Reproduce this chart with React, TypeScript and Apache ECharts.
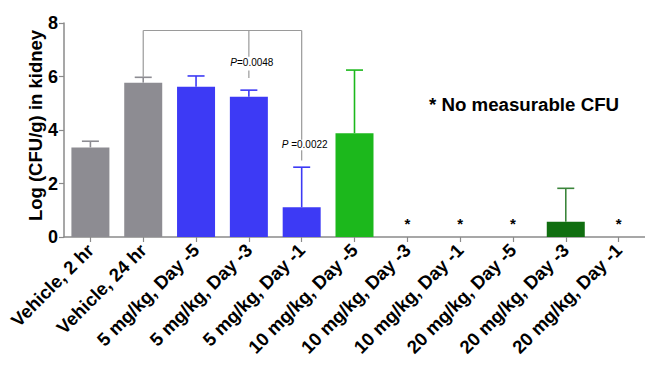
import React, { useEffect, useRef } from "react";
import * as echarts from "echarts";

const categories = [
  "Vehicle, 2 hr",
  "Vehicle, 24 hr",
  "5 mg/kg, Day -5",
  "5 mg/kg, Day -3",
  "5 mg/kg, Day -1",
  "10 mg/kg, Day -5",
  "10 mg/kg, Day -3",
  "10 mg/kg, Day -1",
  "20 mg/kg, Day -5",
  "20 mg/kg, Day -3",
  "20 mg/kg, Day -1",
];
const means = [3.35, 5.77, 5.62, 5.24, 1.11, 3.88, 0, 0, 0, 0.57, 0];
const errUpper = [3.58, 5.97, 6.02, 5.49, 2.61, 6.24, 0, 0, 0, 1.82, 0];
const noCFU = [false, false, false, false, false, false, true, true, true, false, true];
const barColors = [
  "#8d8c92", "#8d8c92",
  "#3d3af5", "#3d3af5", "#3d3af5",
  "#1cb81c", "#1cb81c", "#1cb81c",
  "#106e10", "#106e10", "#106e10",
];
const errColors = [
  "#8d8c92", "#8d8c92",
  "#3d3af5", "#3d3af5", "#3d3af5",
  "#1cb81c", "#1cb81c", "#1cb81c",
  "#3b853b", "#3b853b", "#3b853b",
];
const yMin = 0;
const yMax = 8;
const yInterval = 2;

// comparison bracket
const bracketLevel = 7.72;
const bracketFrom = 1;
const bracketTo = 4;
const bracketDrops = [
  { cat: 1, segments: [[7.72, 5.99]], label: "", labelY: 0 },
  { cat: 3, segments: [[7.72, 6.74], [6.22, 5.94]], label: "=0.0048", labelY: 6.52 },
  { cat: 4, segments: [[7.72, 3.64], [3.24, 2.86]], label: " =0.0022", labelY: 3.44 },
];
const noteText = "* No measurable CFU";
const yAxisTitle = "Log (CFU/g) in kidney";
const asteriskY = 0.5;

export default function App() {
  const ref = useRef<HTMLDivElement>(null);
  useEffect(() => {
    if (!ref.current) return;
    const chart = echarts.init(ref.current, null, { renderer: "svg" });
    const axisColor = "#8a8a8a";
    const option: any = {
      animation: false,
      backgroundColor: "#ffffff",
      grid: { left: 64, top: 23, width: 583, bottom: 130, containLabel: false },
      xAxis: {
        type: "category",
        data: categories,
        boundaryGap: true,
        axisLine: { show: true, lineStyle: { color: axisColor, width: 1.5 } },
        axisTick: { show: true, alignWithLabel: true, length: 5, lineStyle: { color: axisColor, width: 1.2 } },
        axisLabel: {
          rotate: 45,
          interval: 0,
          margin: 10,
          color: "#000",
          fontFamily: "Liberation Sans, Arial, sans-serif",
          fontWeight: "bold",
          fontSize: 18.5,
        },
      },
      yAxis: {
        type: "value",
        min: yMin,
        max: yMax,
        interval: yInterval,
        splitLine: { show: false },
        axisLine: { show: true, lineStyle: { color: axisColor, width: 1.5 } },
        axisTick: { show: true, length: 5, lineStyle: { color: axisColor, width: 1.2 } },
        axisLabel: {
          color: "#000",
          margin: 6,
          fontFamily: "Liberation Sans, Arial, sans-serif",
          fontWeight: "bold",
          fontSize: 18,
        },
      },
      graphic: [
        {
          type: "text",
          x: 35,
          y: 125.5,
          rotation: Math.PI / 2,
          style: {
            text: yAxisTitle,
            fill: "#000",
            font: "bold 18.5px 'Liberation Sans', Arial, sans-serif",
            align: "center",
            verticalAlign: "middle",
          },
        },
        {
          type: "text",
          x: 429,
          y: 104,
          style: {
            text: noteText,
            fill: "#000",
            font: "bold 18.7px 'Liberation Sans', Arial, sans-serif",
            align: "left",
            verticalAlign: "middle",
          },
        },
      ],
      series: [
        {
          type: "bar",
          barWidth: 38,
          data: means.map((v, i) => ({ value: v, itemStyle: { color: barColors[i] } })),
          z: 2,
        },
        {
          type: "custom",
          z: 3,
          data: means.map((m, i) => [i, m, errUpper[i]]),
          renderItem: (params: any, api: any) => {
            const i = api.value(0);
            const m = api.value(1);
            const u = api.value(2);
            if (!(u > m)) return { type: "group", children: [] };
            const p0 = api.coord([i, m]);
            const p1 = api.coord([i, u]);
            const half = 8.5;
            const style = { stroke: errColors[i], lineWidth: 1.6 };
            return {
              type: "group",
              children: [
                { type: "line", shape: { x1: p0[0], y1: p0[1], x2: p1[0], y2: p1[1] }, style },
                { type: "line", shape: { x1: p1[0] - half, y1: p1[1], x2: p1[0] + half, y2: p1[1] }, style },
              ],
            };
          },
        },
        {
          type: "custom",
          z: 4,
          data: noCFU.map((f, i) => [i, f ? asteriskY : -1]),
          renderItem: (params: any, api: any) => {
            const i = api.value(0);
            const y = api.value(1);
            if (y < 0) return { type: "group", children: [] };
            const p = api.coord([i, y]);
            return {
              type: "text",
              x: p[0],
              y: p[1],
              style: {
                text: "*",
                fill: "#000",
                font: "bold 15px 'Liberation Sans', Arial, sans-serif",
                align: "center",
                verticalAlign: "middle",
              },
            };
          },
        },
        {
          type: "custom",
          z: 5,
          data: [[bracketFrom, bracketTo, bracketLevel]],
          renderItem: (params: any, api: any) => {
            const a = api.coord([api.value(0), api.value(2)]);
            const b = api.coord([api.value(1), api.value(2)]);
            const style = { stroke: "#9a9a9a", lineWidth: 1.2 };
            const children: any[] = [
              { type: "line", shape: { x1: a[0], y1: a[1], x2: b[0], y2: b[1] }, style },
            ];
            bracketDrops.forEach((d) => {
              d.segments.forEach((s) => {
                const p = api.coord([d.cat, s[0]]);
                const q = api.coord([d.cat, s[1]]);
                children.push({ type: "line", shape: { x1: p[0], y1: p[1], x2: q[0], y2: q[1] }, style });
              });
              if (d.label) {
                const t = api.coord([d.cat, d.labelY]);
                children.push({
                  type: "text",
                  x: t[0] + 3,
                  y: t[1],
                  style: {
                    text: "{i|P}{n|" + d.label + "}",
                    align: "center",
                    verticalAlign: "middle",
                    rich: {
                      i: { fontStyle: "italic", fontSize: 10, fontFamily: "Liberation Sans, Arial, sans-serif", fill: "#000" },
                      n: { fontSize: 10, fontFamily: "Liberation Sans, Arial, sans-serif", fill: "#000" },
                    },
                  },
                });
              }
            });
            return { type: "group", children };
          },
        },
      ],
    };
    chart.setOption(option);
    return () => chart.dispose();
  }, []);
  return <div ref={ref} style={{ position: "absolute", left: 0, top: 0, width: 645, height: 367 }} />;
}
